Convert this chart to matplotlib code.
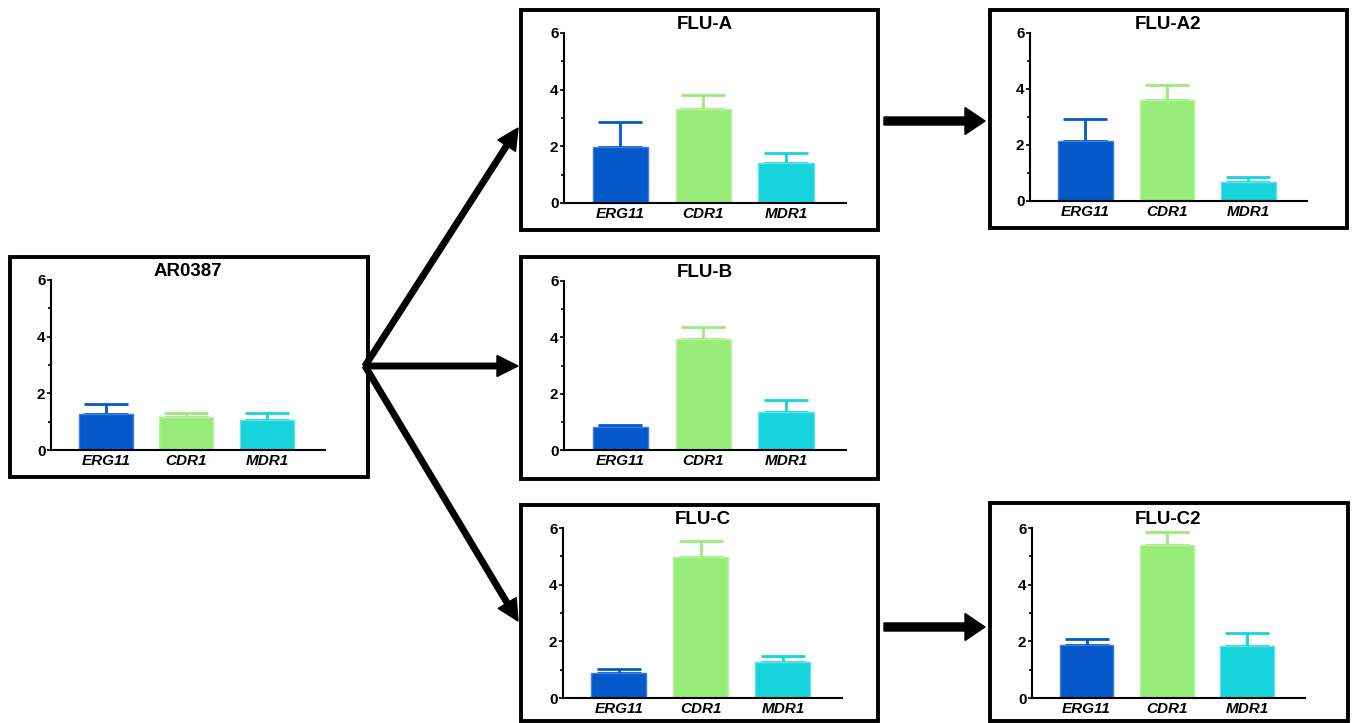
import numpy as np
import matplotlib
matplotlib.use("Agg")
import matplotlib.pyplot as plt
from matplotlib.patches import Rectangle, FancyArrow
from matplotlib.ticker import MultipleLocator

plt.rcParams['font.family'] = ['Liberation Sans', 'DejaVu Sans']

genes = ['ERG11', 'CDR1', 'MDR1']
colores = ['#0458C9', '#98EC7A', '#16D3DC']
bordes = ['#3A7FE0', '#B8F4A0', '#5FE3EA']

# valores de expresion relativa y limite superior de la barra de error
ar0387 = [1.27, 1.16, 1.06]
ar0387_err = [0.34, 0.13, 0.25]
flu_a = [1.98, 3.33, 1.42]
flu_a_err = [0.87, 0.48, 0.34]
flu_a2 = [2.14, 3.62, 0.68]
flu_a2_err = [0.79, 0.51, 0.17]
flu_b = [0.80, 3.95, 1.36]
flu_b_err = [0.09, 0.43, 0.42]
flu_c = [0.89, 4.98, 1.28]
flu_c_err = [0.14, 0.55, 0.20]
flu_c2 = [1.87, 5.39, 1.82]
flu_c2_err = [0.22, 0.47, 0.49]

W, H = 1354, 723

# (titulo, valores, errores, ejes en px: izq, der, arriba, abajo, marco en px)
paneles = [
    ('AR0387', ar0387, ar0387_err, (51, 325, 280, 450), (10, 368, 257, 477)),
    ('FLU-A', flu_a, flu_a_err, (564, 846, 33, 203), (521, 878, 10, 230)),
    ('FLU-A2', flu_a2, flu_a2_err, (1030, 1307, 33, 201), (990, 1347, 10, 228)),
    ('FLU-B', flu_b, flu_b_err, (564, 846, 281, 450), (521, 878, 257, 479)),
    ('FLU-C', flu_c, flu_c_err, (563, 842, 528, 698), (521, 878, 505, 721)),
    ('FLU-C2', flu_c2, flu_c2_err, (1032, 1305, 528, 698), (990, 1348, 503, 721)),
]


def dibujar_panel(fig, titulo, valores, errores, rect):
    izq, der, arr, aba = rect
    ax = fig.add_axes([izq / W, 1 - aba / H, (der - izq) / W, (aba - arr) / H])
    x = np.arange(len(genes))
    for i in range(len(genes)):
        ax.bar(x[i], valores[i], width=0.67, color=colores[i],
               edgecolor=bordes[i], linewidth=1, zorder=2)
        ax.errorbar(x[i], valores[i], yerr=[[0], [errores[i]]], color=colores[i],
                    elinewidth=2, capsize=16, capthick=2, zorder=1)
    ax.set_xlim(-0.68, 2.72)
    ax.set_ylim(0, 6)
    ax.yaxis.set_major_locator(MultipleLocator(2))
    ax.yaxis.set_minor_locator(MultipleLocator(1))
    ax.set_xticks(x)
    ax.set_xticklabels(genes, fontsize=11, fontweight='bold', fontstyle='italic')
    ax.tick_params(axis='x', length=0, pad=3)
    ax.tick_params(axis='y', which='major', length=3, width=1.2, pad=1,
                   labelsize=11)
    ax.tick_params(axis='y', which='minor', length=2, width=1.2)
    for lab in ax.get_yticklabels():
        lab.set_fontweight('bold')
    for s in ['top', 'right']:
        ax.spines[s].set_visible(False)
    for s in ['left', 'bottom']:
        ax.spines[s].set_linewidth(1.5)
    ax.set_title(titulo, fontsize=13.5, fontweight='bold', pad=1)
    ax.patch.set_alpha(0)
    return ax


fig = plt.figure(figsize=(W / 100, H / 100), dpi=100)

for titulo, val, err, rect, marco in paneles:
    dibujar_panel(fig, titulo, val, err, rect)

# capa para marcos y flechas, en pixeles
over = fig.add_axes([0, 0, 1, 1], zorder=-1)
over.set_xlim(0, W)
over.set_ylim(H, 0)
over.axis('off')

for titulo, val, err, rect, marco in paneles:
    x0, x1, y0, y1 = marco
    over.add_patch(Rectangle((x0, y0), x1 - x0, y1 - y0, fill=False,
                             edgecolor='black', linewidth=2.8))

origen = (365, 366)
for tx, ty in [(518, 128), (518, 366), (518, 621)]:
    over.add_patch(FancyArrow(origen[0], origen[1], tx - origen[0], ty - origen[1],
                              width=5.5, head_width=21, head_length=21,
                              length_includes_head=True, color='black'))
for y in [121, 627]:
    over.add_patch(FancyArrow(884, y, 101, 0, width=8, head_width=27,
                              head_length=20, length_includes_head=True,
                              color='black'))

fig.savefig('out.png', dpi=100)
